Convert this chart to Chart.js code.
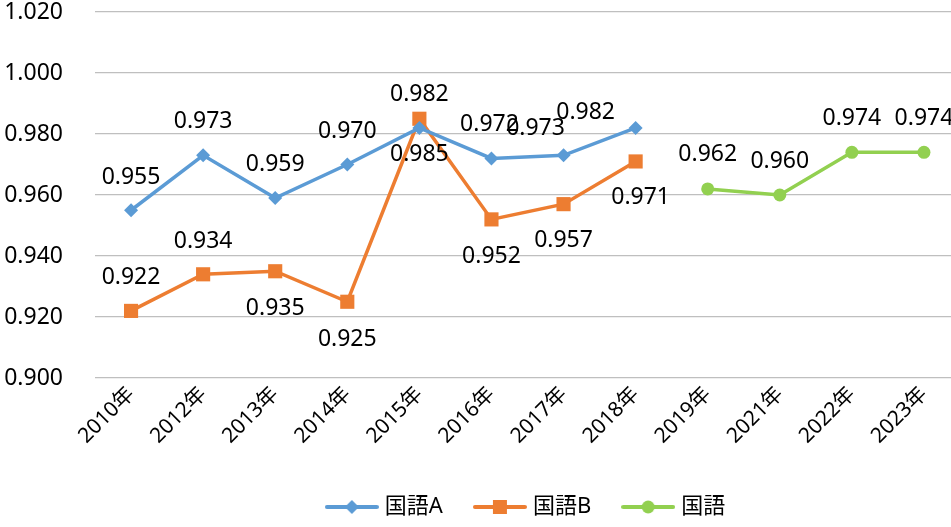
<!DOCTYPE html>
<html>
<head>
<meta charset="utf-8">
<script src="https://cdn.jsdelivr.net/npm/chart.js@4/dist/chart.umd.min.js"></script>
<style>
  html, body { margin: 0; padding: 0; background: #fff; overflow: hidden; }
  #wrap { width: 970px; height: 527px; }
</style>
</head>
<body>
<div id="wrap"><canvas id="lineChart" width="970" height="527"></canvas></div>
<script>
var years = ['2010年', '2012年', '2013年', '2014年', '2015年', '2016年', '2017年', '2018年', '2019年', '2021年', '2022年', '2023年'];
var kokugoA = [0.955, 0.973, 0.959, 0.970, 0.982, 0.972, 0.973, 0.982, null, null, null, null];
var kokugoB = [0.922, 0.934, 0.935, 0.925, 0.985, 0.952, 0.957, 0.971, null, null, null, null];
var kokugo = [null, null, null, null, null, null, null, null, 0.962, 0.960, 0.974, 0.974];
var yTicks = [0.900, 0.920, 0.940, 0.960, 0.980, 1.000, 1.020];

// label offsets from the point [dx, dy]
var offA = [[0,-33],[0,-34],[0,-34],[0,-33],[0,-33],[-2,-34],[-28,-27],[-50,-15]];
var offB = [[0,-33],[0,-33],[0,37],[0,38],[0,36],[0,37],[0,36],[5,36]];
var offC = [[0,0],[0,0],[0,0],[0,0],[0,0],[0,0],[0,0],[0,0],[0,-34],[0,-34],[0,-34],[0,-34]];

var FONT = "'Noto Sans', 'Noto Sans CJK JP', sans-serif";
var blue = '#5B9BD5', orange = '#ED7D31', green = '#92D050';

function legendIcon(color, style) {
  var c = document.createElement('canvas');
  c.width = 54; c.height = 18;
  var g = c.getContext('2d');
  g.strokeStyle = color; g.lineWidth = 4; g.lineCap = 'round';
  g.beginPath(); g.moveTo(2, 9); g.lineTo(52, 9); g.stroke();
  g.fillStyle = color;
  g.beginPath();
  if (style === 'diamond') {
    g.moveTo(27, 2); g.lineTo(34, 9); g.lineTo(27, 16); g.lineTo(20, 9); g.closePath();
  } else if (style === 'square') {
    g.rect(20, 2, 14, 14);
  } else {
    g.arc(27, 9, 6.5, 0, Math.PI * 2);
  }
  g.fill();
  return c;
}
var icons = [legendIcon(blue, 'diamond'), legendIcon(orange, 'square'), legendIcon(green, 'circle')];

var valueLabels = {
  id: 'valueLabels',
  afterDatasetsDraw: function (chart) {
    var ctx = chart.ctx;
    var offs = [offA, offB, offC];
    ctx.save();
    ctx.font = '23px ' + FONT;
    ctx.fillStyle = '#000';
    ctx.textAlign = 'center';
    ctx.textBaseline = 'middle';
    chart.data.datasets.forEach(function (ds, di) {
      var meta = chart.getDatasetMeta(di);
      meta.data.forEach(function (pt, i) {
        var v = ds.data[i];
        if (v === null) return;
        var o = offs[di][i];
        ctx.fillText(v.toFixed(3), pt.x + o[0], pt.y + o[1]);
      });
    });
    ctx.restore();
  }
};

var ctx = document.getElementById('lineChart').getContext('2d');
var chart = new Chart(ctx, {
  type: 'line',
  data: {
    labels: years,
    datasets: [
      { label: '国語A', data: kokugoA, borderColor: blue, backgroundColor: blue, borderWidth: 3.5,
        pointStyle: 'rectRot', pointRadius: 7, pointHoverRadius: 7, pointBorderWidth: 0 },
      { label: '国語B', data: kokugoB, borderColor: orange, backgroundColor: orange, borderWidth: 3.5,
        pointStyle: 'rect', pointRadius: 10, pointHoverRadius: 10, pointBorderWidth: 0 },
      { label: '国語', data: kokugo, borderColor: green, backgroundColor: green, borderWidth: 3.5,
        pointStyle: 'circle', pointRadius: 6.5, pointHoverRadius: 6.5, pointBorderWidth: 0 }
    ]
  },
  options: {
    responsive: false,
    animation: false,
    spanGaps: false,
    layout: { padding: { left: 0, right: 8, top: 12, bottom: -1 } },
    scales: {
      x: {
        offset: true,
        grid: { display: false, drawTicks: false },
        border: { display: false },
        ticks: { color: '#000', font: { family: FONT, size: 21 }, minRotation: 45, maxRotation: 45, padding: 4 },
        afterFit: function (scale) { scale.height = 83; }
      },
      y: {
        min: 0.9,
        max: 1.02,
        afterBuildTicks: function (scale) {
          scale.ticks = yTicks.map(function (v) { return { value: v }; });
        },
        grid: { color: '#BFBFBF', lineWidth: 1.3, drawTicks: true, tickLength: 32, tickColor: 'rgba(0,0,0,0)' },
        border: { display: false },
        ticks: {
          color: '#000', font: { family: FONT, size: 23, lineHeight: 1 }, padding: 0,
          callback: function (v) { return Number(v).toFixed(3); }
        },
        afterFit: function (scale) { scale.width = 95; }
      }
    },
    plugins: {
      tooltip: { enabled: false },
      legend: {
        position: 'bottom',
        fullSize: false,
        labels: {
          usePointStyle: true,
          pointStyleWidth: 44,
          color: '#000',
          font: { family: FONT, size: 22 },
          padding: 35,
          generateLabels: function (chart) {
            return chart.data.datasets.map(function (ds, i) {
              return { text: ds.label, pointStyle: icons[i], datasetIndex: i, fillStyle: ds.borderColor,
                       strokeStyle: ds.borderColor, lineWidth: 0, hidden: false };
            });
          }
        }
      }
    }
  },
  plugins: [valueLabels]
});
</script>
</body>
</html>
